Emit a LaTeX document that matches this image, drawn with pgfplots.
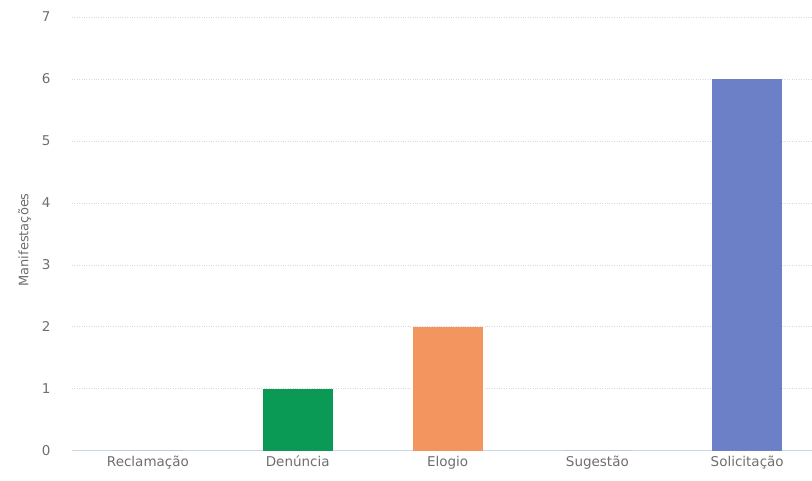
\documentclass[border=0pt]{standalone}
\usepackage{pgfplots}
\pgfplotsset{compat=1.18}
\usepackage{fontspec}
\setmainfont{DejaVu Sans}
\definecolor{txtgray}{HTML}{6E6E6E}
\definecolor{bgreen}{HTML}{0A9A55}
\definecolor{borange}{HTML}{F2955E}
\definecolor{bblue}{HTML}{6B80C7}
\definecolor{zeroline}{HTML}{C9D6E6}
\begin{document}
\begin{tikzpicture}
\begin{axis}[name=ax,
  scale only axis, width=740pt, height=434pt,
  xmin=-0.507, xmax=4.43, ymin=0, ymax=7,
  ytick={0,1,...,7},
  xtick={0,1,2,3,4},
  xticklabels={Reclamação,Denúncia,Elogio,Sugestão,Solicitação},
  major tick length=0pt,
  axis line style={draw=none},
  ymajorgrids, grid style={dotted, gray!30, line width=0.7pt},
  tick label style={font=\fontsize{13.5}{15}\selectfont, text=txtgray},
  /pgf/number format/assume math mode=true,
  yticklabel style={xshift=-18pt},
  xticklabel style={text height=10pt, text depth=3pt, yshift=-2pt},
  ylabel={Manifestações},
  ylabel style={font=\fontsize{13}{15}\selectfont, text=txtgray, yshift=4pt, xshift=-6pt},
  ybar, bar width=70pt, bar shift=0pt,
  clip=false,
]
\draw[zeroline, line width=0.8pt] (rel axis cs:0,0) -- (rel axis cs:1,0);
\addplot[draw=none, fill=gray] coordinates {(0,0)};
\addplot[draw=none, fill=bgreen] coordinates {(1,1)};
\addplot[draw=none, fill=borange] coordinates {(2,2)};
\addplot[draw=none, fill=gray] coordinates {(3,0)};
\addplot[draw=none, fill=bblue] coordinates {(4,6)};
\end{axis}
\path (ax.south west) ++(-72pt,-30pt) rectangle ++(812pt,481pt);
\end{tikzpicture}
\end{document}
